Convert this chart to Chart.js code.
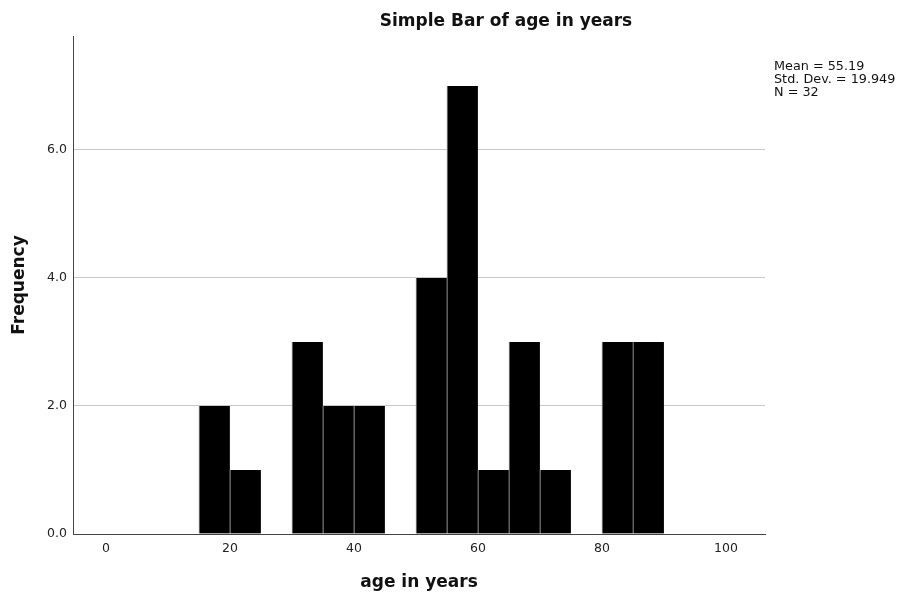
<!DOCTYPE html>
<html>
<head>
<meta charset="utf-8">
<script src="https://cdn.jsdelivr.net/npm/chart.js@4/dist/chart.umd.min.js"></script>
<style>
  html, body { margin: 0; padding: 0; background: #fff; }
  #wrap { width: 897px; height: 595px; }
</style>
</head>
<body>
<div id="wrap"><canvas id="histChart"></canvas></div>
<script>
// ##################### DATA #######################
const binStart = [15, 20, 30, 35, 40, 50, 55, 60, 65, 70, 80, 85]
const binWidth = 5
const freq = [2, 1, 3, 2, 2, 4, 7, 1, 3, 1, 3, 3]
const xTicks = [0, 20, 40, 60, 80, 100]
const yTicks = [0, 2, 4, 6]
const statLines = ['Mean = 55.19', 'Std. Dev. = 19.949', 'N = 32']
const chartTitle = 'Simple Bar of age in years'

const points = []
binStart.map((start, i) => {
    points.push({ x: start + binWidth / 2, y: freq[i] })
})

const FONT = "'DejaVu Sans', sans-serif"

// title and stats box are drawn by hand (SPSS puts them off-centre)
const extraText = {
    id: 'extraText',
    afterDraw(chart) {
        const c = chart.ctx
        c.save()
        c.fillStyle = '#111'
        c.font = 'bold 17px ' + FONT
        c.textAlign = 'center'
        c.textBaseline = 'middle'
        c.fillText(chartTitle, 506, 22)
        c.font = '12.8px ' + FONT
        c.textAlign = 'left'
        statLines.forEach((line, i) => {
            c.fillText(line, 774, 67 + i * 13)
        })
        c.restore()
    }
}

const ctx = document.getElementById('histChart');
const histChart = new Chart(ctx, {
    type: 'bar',
    data: {
        datasets: [{
            data: points,
            backgroundColor: '#000',
            borderColor: '#a8a8a8',
            borderWidth: { left: 1, right: 0, top: 0, bottom: 0 },
            borderSkipped: false,
            barPercentage: 1,
            categoryPercentage: 1,
        }]
    },
    options: {
        responsive: true,
        maintainAspectRatio: false,
        animation: false,
        layout: { padding: { top: 36, right: 132, bottom: 0, left: 0 } },
        plugins: {
            legend: { display: false },
            tooltip: { enabled: false },
        },
        scales: {
            x: {
                type: 'linear',
                offset: false,
                min: -5.3,
                max: 106.3,
                afterBuildTicks: s => { s.ticks = xTicks.map(v => ({ value: v })) },
                afterFit: s => { s.height = 61 },
                grid: { display: false, drawTicks: false, offset: false },
                border: { color: '#444', width: 1 },
                ticks: { color: '#222', font: { family: FONT, size: 12.5 }, padding: 7, maxRotation: 0 },
                title: {
                    display: true, text: 'age in years', color: '#111',
                    font: { family: FONT, size: 17, weight: 'bold' },
                    padding: { top: 0, bottom: 2 }
                }
            },
            y: {
                min: 0,
                max: 7.78,
                afterBuildTicks: s => { s.ticks = yTicks.map(v => ({ value: v })) },
                afterFit: s => { s.width = 73 },
                grid: { color: '#c8c8c8', drawTicks: false },
                border: { color: '#444', width: 1 },
                ticks: {
                    color: '#222', font: { family: FONT, size: 12.5 }, padding: 6,
                    callback: v => v.toFixed(1)
                },
                title: {
                    display: true, text: 'Frequency', color: '#111',
                    font: { family: FONT, size: 17, weight: 'bold' },
                    padding: { top: 9, bottom: 0 }
                }
            }
        }
    },
    plugins: [extraText]
});
</script>
</body>
</html>
